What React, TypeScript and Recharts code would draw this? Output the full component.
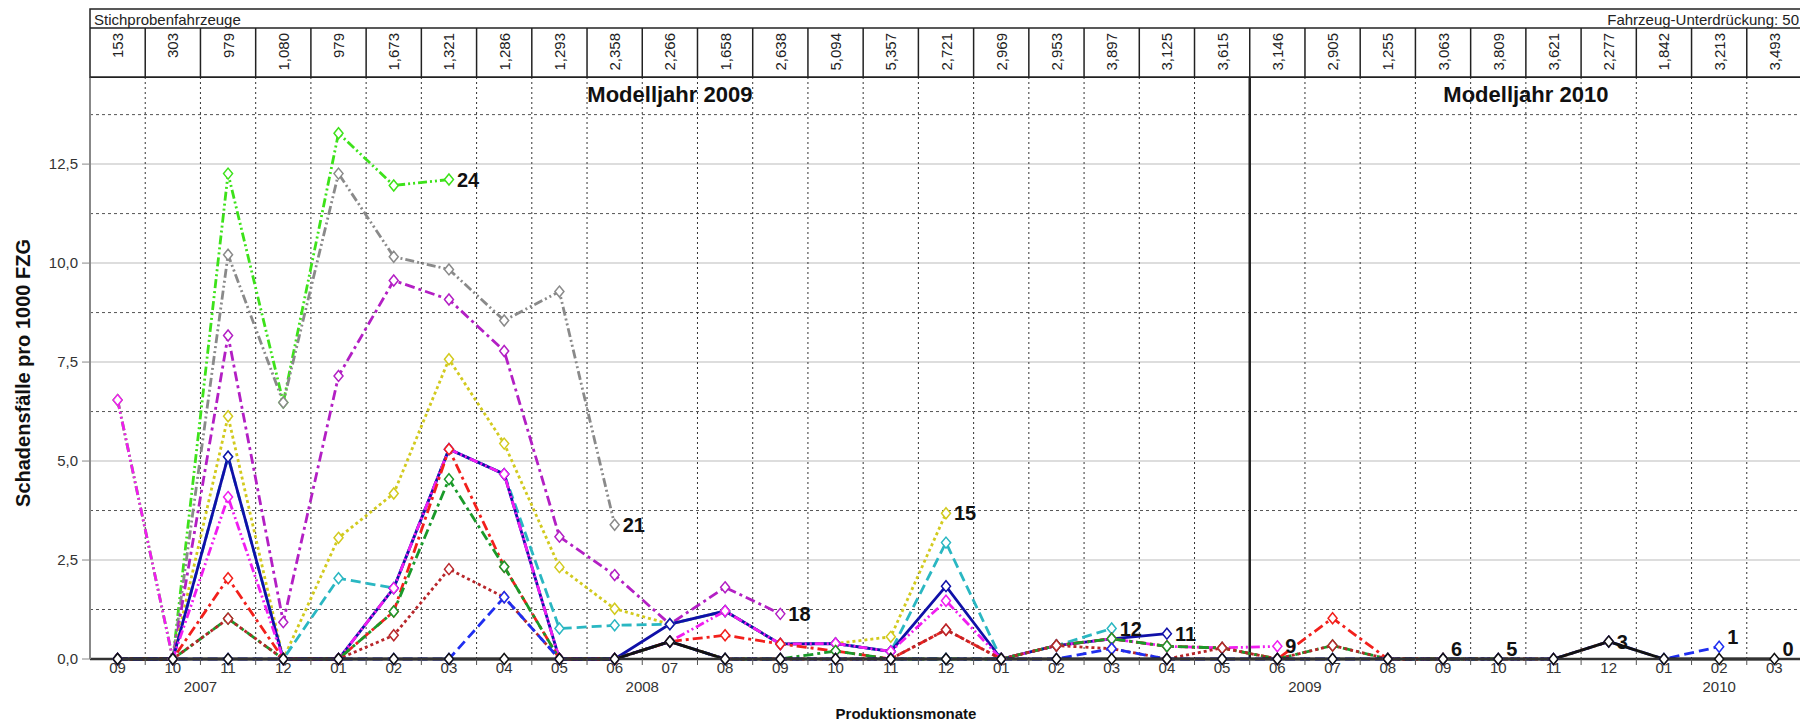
import React from "react";
import {
  LineChart,
  Line,
  XAxis,
  YAxis,
  CartesianGrid,
  ReferenceLine,
  ReferenceArea,
} from "recharts";

// Produktionsmonate 09/2007 .. 03/2010
const months = [
  "09", "10", "11", "12",
  "01", "02", "03", "04", "05", "06", "07", "08", "09", "10", "11", "12",
  "01", "02", "03", "04", "05", "06", "07", "08", "09", "10", "11", "12",
  "01", "02", "03",
];
const years = [
  "2007", "2007", "2007", "2007",
  "2008", "2008", "2008", "2008", "2008", "2008", "2008", "2008", "2008", "2008", "2008", "2008",
  "2009", "2009", "2009", "2009", "2009", "2009", "2009", "2009", "2009", "2009", "2009", "2009",
  "2010", "2010", "2010",
];
const modelYears = [
  "2009", "2009", "2009", "2009", "2009", "2009", "2009", "2009", "2009", "2009", "2009",
  "2009", "2009", "2009", "2009", "2009", "2009", "2009", "2009", "2009", "2009",
  "2010", "2010", "2010", "2010", "2010", "2010", "2010", "2010", "2010", "2010",
];
const sampleSizes = [
  153, 303, 979, 1080, 979, 1673, 1321, 1286, 1293, 2358, 2266, 1658, 2638, 5094, 5357, 2721,
  2969, 2953, 3897, 3125, 3615, 3146, 2905, 1255, 3063, 3809, 3621, 2277, 1842, 3213, 3493,
];
const yTicks = [0, 2.5, 5, 7.5, 10, 12.5];
const yMinor = [1.25, 3.75, 6.25, 8.75, 11.25, 13.75];

// Schadensfälle pro 1000 FZG, je Kurve (Monate im Feld)
const mis24 = [6.54, 0, 12.26, 6.48, 13.28, 11.96, 12.11];
const mis21 = [0, 0, 10.21, 6.48, 12.26, 10.16, 9.84, 8.55, 9.28, 3.39];
const mis18 = [0, 0, 8.17, 0.93, 7.15, 9.56, 9.08, 7.78, 3.09, 2.12, 0.88, 1.81, 1.14];
const mis15 = [0, 0, 6.13, 0, 3.06, 4.18, 7.57, 5.44, 2.32, 1.27, 0.88, 1.21, 0.38, 0.39, 0.56, 3.68];
const mis12 = [0, 0, 5.11, 0, 2.04, 1.79, 5.3, 4.67, 0.77, 0.85, 0.88, 1.21, 0.38, 0.39, 0.19, 2.94, 0, 0.34, 0.77];
const mis11 = [0, 0, 5.11, 0, 0, 1.79, 5.3, 4.67, 0, 0, 0.88, 1.21, 0.38, 0.39, 0.19, 1.84, 0, 0.34, 0.51, 0.64];
const mis9 = [6.54, 0, 4.09, 0, 0, 1.79, 5.3, 4.67, 0, 0, 0.44, 1.21, 0.38, 0.39, 0.19, 1.47, 0, 0.34, 0.51, 0.32, 0.28, 0.32];
const mis6 = [0, 0, 2.04, 0, 0, 1.2, 5.3, 2.33, 0, 0, 0.44, 0.6, 0.38, 0.2, 0, 0.74, 0, 0.34, 0.51, 0.32, 0.28, 0, 1.03, 0, 0];
const mis5 = [0, 0, 1.02, 0, 0, 1.2, 4.54, 2.33, 0, 0, 0.44, 0, 0, 0.2, 0, 0, 0, 0.34, 0.51, 0.32, 0.28, 0, 0.34, 0, 0, 0];
const mis3 = [0, 0, 1.02, 0, 0, 0.6, 2.27, 1.56, 0, 0, 0.44, 0, 0, 0, 0, 0.74, 0, 0.34, 0.26, 0, 0.28, 0, 0.34, 0, 0, 0, 0, 0.44];
const mis1 = [0, 0, 0, 0, 0, 0, 0, 1.56, 0, 0, 0.44, 0, 0, 0, 0, 0, 0, 0, 0.26, 0, 0, 0, 0, 0, 0, 0, 0, 0.44, 0, 0.31];
const mis0 = [0, 0, 0, 0, 0, 0, 0, 0, 0, 0, 0.44, 0, 0, 0, 0, 0, 0, 0, 0, 0, 0, 0, 0, 0, 0, 0, 0, 0.44, 0, 0, 0];

const series = [
  { key: "mis24", label: "24", values: mis24, color: "#3de21a", dash: "9 3 2 3 2 3", up: 0 },
  { key: "mis21", label: "21", values: mis21, color: "#8a8a8a", dash: "9 3 2 3 2 3", up: 0 },
  { key: "mis18", label: "18", values: mis18, color: "#b31fc4", dash: "10 4 3 4", up: 0 },
  { key: "mis15", label: "15", values: mis15, color: "#d2ca1e", dash: "3 3", up: 0 },
  { key: "mis12", label: "12", values: mis12, color: "#2ab7c2", dash: "10 5", up: 0 },
  { key: "mis11", label: "11", values: mis11, color: "#1010a8", dash: undefined, up: 0 },
  { key: "mis9", label: "9", values: mis9, color: "#f01df0", dash: "9 3 2 3 2 3", up: 0 },
  { key: "mis6", label: "6", values: mis6, color: "#f2201c", dash: "10 4 3 4", up: 10 },
  { key: "mis5", label: "5", values: mis5, color: "#1a9a2a", dash: "10 4 3 4", up: 10 },
  { key: "mis3", label: "3", values: mis3, color: "#b8262a", dash: "3 3", up: 0 },
  { key: "mis1", label: "1", values: mis1, color: "#1f2ef0", dash: "10 5", up: 10 },
  { key: "mis0", label: "0", values: mis0, color: "#111111", dash: undefined, up: 10 },
];

const data = months.map((m, i) => {
  const row: Record<string, number | null> = { i };
  series.forEach((s) => {
    row[s.key] = i < s.values.length ? s.values[i] : null;
  });
  return row;
});

const idx = months.map((_, i) => i);
const boundaries = months.slice(1).map((_, i) => i + 0.5);

const groupCenters = (arr: string[]) =>
  Array.from(new Set(arr)).map((v) => {
    const first = arr.indexOf(v);
    const last = arr.lastIndexOf(v);
    return { v, first, last, center: (first + last) / 2 };
  });
const yearGroups = groupCenters(years);
const modelGroups = groupCenters(modelYears);
const modelSplit = modelGroups.slice(1).map((g) => g.first - 0.5);

// layout
const CHART_W = 1800;
const CHART_H = 715;
const MARGIN = { top: 1, right: 6, bottom: 2, left: 6 };
const Y_AXIS_W = 76;
const TOP_AXIS_H = 68;
const MONTH_AXIS_H = 18;
const YEAR_AXIS_H = 44;
const HEADER_H = 19;
const PLOT_LEFT = MARGIN.left + Y_AXIS_W;
const PLOT_RIGHT = CHART_W - MARGIN.right;
const PLOT_TOP = MARGIN.top + TOP_AXIS_H;
const PLOT_BOTTOM = CHART_H - MARGIN.bottom - MONTH_AXIS_H - YEAR_AXIS_H;
const STEP = (PLOT_RIGHT - PLOT_LEFT) / months.length;

const fmtDe = (v: number) => v.toFixed(1).replace(".", ",");

const CountTick = (props: any) => {
  const { x, index, payload } = props;
  const n = sampleSizes[payload.value];
  return (
    <g>
      {index === 0 && (
        <g>
          <rect
            x={PLOT_LEFT}
            y={MARGIN.top}
            width={PLOT_RIGHT - PLOT_LEFT}
            height={TOP_AXIS_H}
            fill="#fff"
            stroke="#222"
            strokeWidth={1.5}
          />
          <line x1={PLOT_LEFT} x2={PLOT_RIGHT} y1={MARGIN.top + HEADER_H} y2={MARGIN.top + HEADER_H} stroke="#222" strokeWidth={1.5} />
          <text x={PLOT_LEFT + 4} y={MARGIN.top + HEADER_H / 2 + 1} dominantBaseline="central" fontSize={15} fill="#222">
            Stichprobenfahrzeuge
          </text>
          <text x={PLOT_RIGHT - 3} y={MARGIN.top + HEADER_H / 2 + 1} dominantBaseline="central" textAnchor="end" fontSize={15} fill="#222">
            Fahrzeug-Unterdrückung: 50
          </text>
        </g>
      )}
      {index > 0 && (
        <line
          x1={x - STEP / 2}
          x2={x - STEP / 2}
          y1={MARGIN.top + HEADER_H}
          y2={PLOT_TOP}
          stroke="#222"
          strokeWidth={1.5}
        />
      )}
      <text
        transform={`translate(${x},${MARGIN.top + HEADER_H + 5}) rotate(-90)`}
        textAnchor="end"
        dominantBaseline="central"
        fontSize={15}
        fill="#222"
      >
        {n.toLocaleString("en-US")}
      </text>
    </g>
  );
};

const MonthTick = (props: any) => {
  const { x, y, index, payload } = props;
  return (
    <g>
      {index > 0 && (
        <line x1={x - STEP / 2} x2={x - STEP / 2} y1={PLOT_BOTTOM} y2={PLOT_BOTTOM + 6} stroke="#555" strokeWidth={1} />
      )}
      <text x={x} y={y} dy="0.71em" textAnchor="middle" fontSize={15} fill="#333">
        {months[payload.value]}
      </text>
    </g>
  );
};

const makeDot = (s: (typeof series)[number]) => (p: any) => {
  const { cx, cy, index } = p;
  if (cx == null || cy == null || Number.isNaN(cy)) return <g key={`${s.key}-d${index}`} />;
  const isLast = index === s.values.length - 1;
  return (
    <g key={`${s.key}-d${index}`}>
      <path
        d={`M${cx},${cy - 5.5}L${cx + 4.5},${cy}L${cx},${cy + 5.5}L${cx - 4.5},${cy}Z`}
        fill="#fff"
        stroke={s.color}
        strokeWidth={1.5}
      />
      {isLast && (
        <text
          x={cx + 8}
          y={cy - s.up}
          dominantBaseline="central"
          fontSize={20}
          fontWeight={700}
          fill="#111"
        >
          {s.label}
        </text>
      )}
    </g>
  );
};

export default function App() {
  return (
    <div style={{ width: CHART_W, height: CHART_H }}>
      <LineChart
        width={CHART_W}
        height={CHART_H}
        data={data}
        margin={MARGIN}
        style={{ fontFamily: '"Liberation Sans", Arial, sans-serif' }}
      >
        <CartesianGrid xAxisId="m" vertical={false} stroke="#d2d2d2" strokeWidth={1.5} />

        <XAxis
          xAxisId="n"
          orientation="top"
          dataKey="i"
          type="number"
          domain={[-0.5, months.length - 0.5]}
          ticks={idx}
          interval={0}
          height={TOP_AXIS_H}
          tickLine={false}
          axisLine={{ stroke: "#222", strokeWidth: 2 }}
          tick={(p: any) => <CountTick {...p} />}
        />
        <XAxis
          xAxisId="m"
          dataKey="i"
          type="number"
          domain={[-0.5, months.length - 0.5]}
          ticks={idx}
          interval={0}
          height={MONTH_AXIS_H}
          tickLine={false}
          tickSize={0}
          tickMargin={3}
          axisLine={{ stroke: "#333", strokeWidth: 2.5 }}
          tick={(p: any) => <MonthTick {...p} />}
        />
        <XAxis
          xAxisId="y"
          dataKey="i"
          type="number"
          domain={[-0.5, months.length - 0.5]}
          ticks={yearGroups.map((g) => g.center)}
          interval={0}
          height={YEAR_AXIS_H}
          tickLine={false}
          tickSize={0}
          tickMargin={4}
          axisLine={false}
          tick={{ fontSize: 15, fill: "#333" }}
          tickFormatter={(v: number) => yearGroups.find((g) => g.center === v)?.v ?? ""}
          label={(p: any) => {
            const vb = p.viewBox || {};
            return (
              <text
                x={(vb.x ?? PLOT_LEFT) + (vb.width ?? PLOT_RIGHT - PLOT_LEFT) / 2 - 40}
                y={CHART_H - 10}
                dominantBaseline="central"
                textAnchor="middle"
                fontSize={15}
                fontWeight={700}
                fill="#111"
              >
                Produktionsmonate
              </text>
            );
          }}
        />
        <YAxis
          domain={[0, 14.7]}
          ticks={yTicks}
          interval={0}
          width={Y_AXIS_W}
          tickSize={8}
          tickMargin={4}
          tickFormatter={fmtDe}
          tick={{ fontSize: 15, fill: "#333" }}
          tickLine={{ stroke: "#888" }}
          axisLine={{ stroke: "#888", strokeWidth: 2 }}
          label={() => (
            <text
              transform={`translate(15,${(PLOT_TOP + PLOT_BOTTOM) / 2 + 5}) rotate(-90)`}
              textAnchor="middle"
              dominantBaseline="central"
              fontSize={20}
              fontWeight={700}
              fill="#111"
            >
              Schadensfälle pro 1000 FZG
            </text>
          )}
        />

        {yMinor.map((v) => (
          <ReferenceLine key={`h${v}`} xAxisId="m" y={v} stroke="#555" strokeWidth={1} strokeDasharray="3 3" />
        ))}
        {boundaries.map((b) =>
          modelSplit.includes(b) ? null : (
            <ReferenceLine key={`v${b}`} xAxisId="m" x={b} stroke="#333" strokeWidth={1} strokeDasharray="2 3" />
          )
        )}
        {modelGroups.map((g) => (
          <ReferenceArea
            key={`my${g.v}`}
            xAxisId="m"
            x1={g.first - 0.5}
            x2={g.last + 0.5}
            fill="transparent"
            stroke="none"
            label={{
              value: `Modelljahr ${g.v}`,
              position: "insideTop",
              offset: 9,
              fill: "#111",
              fontSize: 22,
              fontWeight: 700,
            }}
          />
        ))}
        {modelSplit.map((b) => (
          <ReferenceLine key={`ms${b}`} xAxisId="m" x={b} stroke="#222" strokeWidth={2.5} />
        ))}

        {series.map((s) => (
          <Line
            key={s.key}
            xAxisId="m"
            type="linear"
            dataKey={s.key}
            stroke={s.color}
            strokeWidth={2.8}
            strokeDasharray={s.dash}
            dot={makeDot(s)}
            activeDot={false}
            connectNulls={false}
            isAnimationActive={false}
          />
        ))}
      </LineChart>
    </div>
  );
}
